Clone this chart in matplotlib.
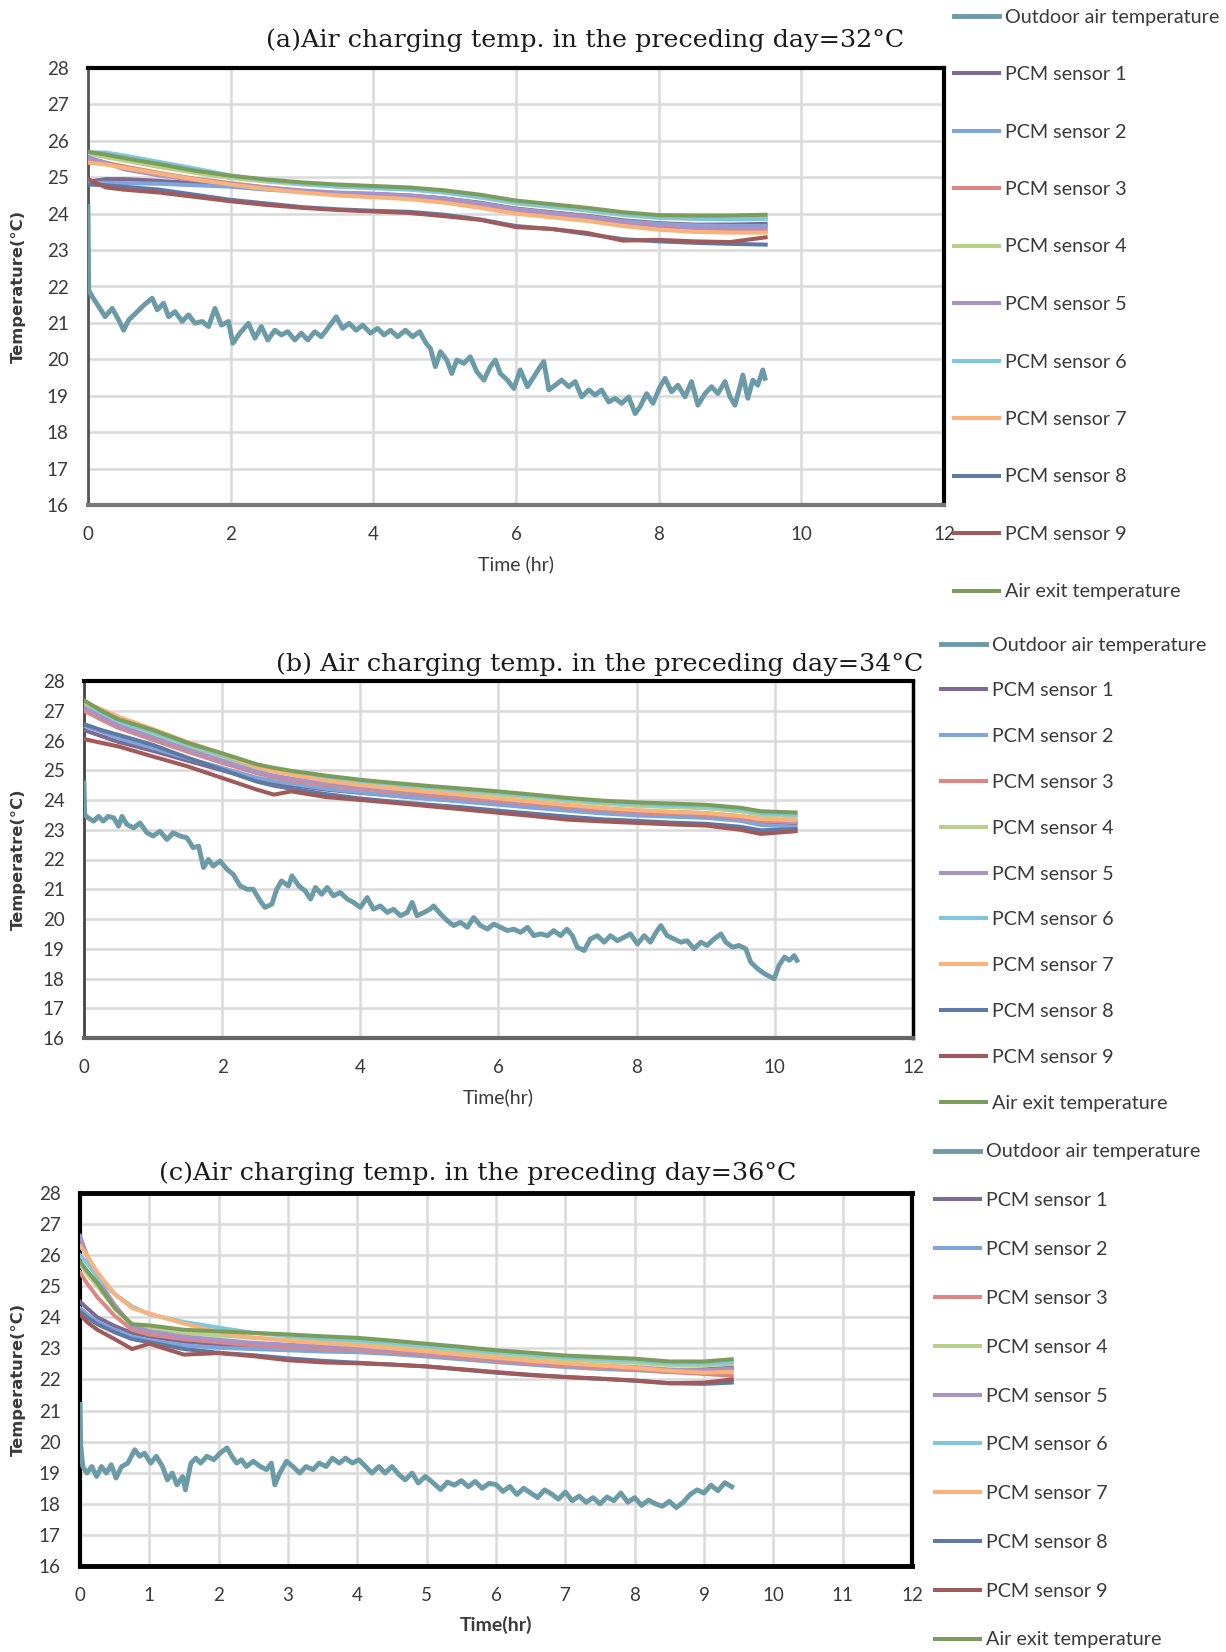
import matplotlib
matplotlib.use("Agg")
import matplotlib.pyplot as plt

# ---------------------------------------------------------------- data
SERIES_NAMES = ["Outdoor air temperature", "PCM sensor 1", "PCM sensor 2", "PCM sensor 3",
                "PCM sensor 4", "PCM sensor 5", "PCM sensor 6", "PCM sensor 7",
                "PCM sensor 8", "PCM sensor 9", "Air exit temperature"]
SERIES_COLORS = ["#6b9ba6", "#7d6a92", "#7ea6da", "#dc8784", "#b7d08a", "#a893c8",
                 "#7ec7dc", "#f9b27a", "#5f79a5", "#a05a5a", "#7b9d5b"]

TITLES = ["(a)Air charging temp. in the preceding day=32\u00b0C",
          "(b) Air charging temp. in the preceding day=34\u00b0C",
          "(c)Air charging temp. in the preceding day=36\u00b0C"]
YLABELS = ["Temperature(\u00b0C)", "Temperatre(\u00b0C)", "Temperature(\u00b0C)"]
XLABELS = ["Time (hr)", "Time(hr)", "Time(hr)"]
Y_TICKS = list(range(16, 29))
X_TICKS_AB = [0, 2, 4, 6, 8, 10, 12]
X_TICKS_C = list(range(0, 13))

# panel (a): 32 degC charging day
OUT_A_T = [0, 0.01, 0.06, 0.15, 0.24, 0.34, 0.43, 0.5, 0.57, 0.67, 0.79, 0.9, 0.97, 1.06, 1.13,
           1.22, 1.32, 1.41, 1.5, 1.6, 1.69, 1.78, 1.87, 1.97, 2.03, 2.13, 2.25, 2.34, 2.43,
           2.52, 2.62, 2.71, 2.8, 2.9, 2.99, 3.08, 3.18, 3.27, 3.36, 3.48, 3.57, 3.66, 3.76,
           3.85, 3.96, 4.06, 4.15, 4.24, 4.34, 4.45, 4.55, 4.65, 4.74, 4.8, 4.87, 4.94, 5.03,
           5.1, 5.17, 5.27, 5.36, 5.45, 5.55, 5.64, 5.71, 5.78, 5.88, 5.97, 6.06, 6.16, 6.25,
           6.34, 6.39, 6.46, 6.55, 6.64, 6.74, 6.83, 6.92, 7.02, 7.11, 7.2, 7.3, 7.39, 7.48,
           7.58, 7.67, 7.74, 7.83, 7.92, 8.02, 8.09, 8.18, 8.27, 8.37, 8.46, 8.55, 8.65, 8.74,
           8.83, 8.93, 9.0, 9.07, 9.14, 9.18, 9.25, 9.32, 9.39, 9.46, 9.49]
OUT_A_V = [24.2, 21.9, 21.72, 21.45, 21.17, 21.4, 21.08, 20.8, 21.08, 21.27, 21.5, 21.68, 21.36,
           21.54, 21.17, 21.31, 21.04, 21.22, 20.99, 21.04, 20.9, 21.4, 20.94, 21.04, 20.44,
           20.72, 20.99, 20.58, 20.9, 20.53, 20.8, 20.67, 20.76, 20.53, 20.72, 20.53, 20.76,
           20.62, 20.85, 21.17, 20.85, 20.99, 20.8, 20.94, 20.72, 20.85, 20.67, 20.8, 20.62,
           20.8, 20.62, 20.76, 20.44, 20.3, 19.8, 20.21, 19.98, 19.61, 19.98, 19.89, 20.07,
           19.66, 19.43, 19.8, 19.98, 19.61, 19.43, 19.2, 19.71, 19.25, 19.52, 19.8, 19.94,
           19.16, 19.29, 19.43, 19.25, 19.39, 18.97, 19.16, 19.02, 19.16, 18.83, 18.93, 18.79,
           18.97, 18.51, 18.7, 19.06, 18.79, 19.25, 19.48, 19.11, 19.29, 18.97, 19.39, 18.74,
           19.06, 19.25, 19.06, 19.39, 18.97, 18.74, 19.25, 19.57, 18.93, 19.43, 19.29, 19.71,
           19.48]
PCM_A_T = [0, 0.25, 0.5, 1, 1.5, 2, 2.5, 3, 3.5, 4, 4.5, 5, 5.5, 6, 6.5, 7, 7.5, 8, 8.5, 9, 9.5]
S1_A = [24.88, 24.95, 24.95, 24.90, 24.84, 24.78, 24.70, 24.62, 24.56, 24.54, 24.50, 24.42,
        24.30, 24.14, 24.04, 23.94, 23.82, 23.74, 23.70, 23.70, 23.72]
S2_A = [24.85, 24.85, 24.84, 24.82, 24.78, 24.74, 24.66, 24.60, 24.55, 24.52, 24.48, 24.40,
        24.28, 24.12, 24.02, 23.92, 23.80, 23.72, 23.68, 23.66, 23.66]
S3_A = [25.50, 25.40, 25.30, 25.12, 24.96, 24.84, 24.72, 24.62, 24.56, 24.52, 24.48, 24.38,
        24.24, 24.08, 23.98, 23.88, 23.76, 23.66, 23.60, 23.56, 23.52]
S4_A = [25.65, 25.55, 25.46, 25.28, 25.12, 24.98, 24.88, 24.80, 24.75, 24.72, 24.68, 24.58,
        24.44, 24.28, 24.18, 24.08, 23.96, 23.88, 23.86, 23.86, 23.88]
S5_A = [25.55, 25.40, 25.22, 25.05, 24.92, 24.82, 24.72, 24.64, 24.58, 24.55, 24.50, 24.42,
        24.28, 24.12, 24.02, 23.92, 23.78, 23.68, 23.62, 23.60, 23.60]
S6_A = [25.68, 25.68, 25.60, 25.42, 25.24, 25.05, 24.92, 24.82, 24.74, 24.70, 24.66, 24.58,
        24.46, 24.30, 24.20, 24.10, 23.98, 23.90, 23.86, 23.84, 23.85]
S7_A = [25.40, 25.35, 25.26, 25.10, 24.94, 24.80, 24.68, 24.58, 24.50, 24.45, 24.40, 24.30,
        24.16, 24.00, 23.90, 23.80, 23.66, 23.56, 23.50, 23.48, 23.48]
S8_A = [24.80, 24.78, 24.74, 24.66, 24.52, 24.38, 24.28, 24.18, 24.12, 24.08, 24.05, 23.97,
        23.84, 23.66, 23.58, 23.44, 23.30, 23.24, 23.20, 23.17, 23.15]
S9_A = [24.95, 24.72, 24.66, 24.58, 24.46, 24.34, 24.24, 24.16, 24.10, 24.06, 24.02, 23.93,
        23.83, 23.63, 23.58, 23.47, 23.26, 23.28, 23.24, 23.22, 23.35]
EXIT_A = [25.70, 25.62, 25.53, 25.36, 25.18, 25.04, 24.94, 24.86, 24.80, 24.76, 24.72, 24.64,
          24.52, 24.36, 24.26, 24.16, 24.04, 23.96, 23.95, 23.95, 23.97]

# panel (b): 34 degC charging day
OUT_B_T = [0, 0.01, 0.06, 0.14, 0.21, 0.28, 0.35, 0.43, 0.5, 0.55, 0.62, 0.72, 0.81, 0.91,
           1.0, 1.1, 1.2, 1.29, 1.39, 1.49, 1.58, 1.66, 1.73, 1.8, 1.87, 1.97, 2.07, 2.16, 2.26,
           2.36, 2.45, 2.55, 2.62, 2.72, 2.79, 2.86, 2.96, 3.01, 3.11, 3.2, 3.28, 3.35, 3.44,
           3.52, 3.61, 3.71, 3.81, 3.9, 4.0, 4.1, 4.19, 4.29, 4.39, 4.48, 4.58, 4.68, 4.75,
           4.82, 4.92, 5.01, 5.06, 5.16, 5.26, 5.35, 5.45, 5.55, 5.64, 5.74, 5.84, 5.93, 6.03,
           6.13, 6.22, 6.32, 6.42, 6.51, 6.61, 6.71, 6.8, 6.9, 6.99, 7.07, 7.14, 7.24, 7.33,
           7.43, 7.53, 7.62, 7.72, 7.82, 7.91, 8.01, 8.11, 8.2, 8.28, 8.35, 8.44, 8.54, 8.64,
           8.73, 8.83, 8.93, 9.02, 9.12, 9.22, 9.29, 9.39, 9.48, 9.58, 9.65, 9.75, 9.85, 9.94,
           9.99, 10.06, 10.14, 10.21, 10.28, 10.32]
OUT_B_V = [24.57, 23.5, 23.4, 23.29, 23.45, 23.29, 23.45, 23.4, 23.12, 23.45, 23.18, 23.06,
           23.23, 22.9, 22.79, 22.95, 22.67, 22.9, 22.79, 22.73, 22.4, 22.45, 21.73, 22.0,
           21.78, 21.95, 21.67, 21.5, 21.11, 21.0, 21.0, 20.61, 20.39, 20.5, 21.0, 21.28,
           21.11, 21.45, 21.11, 20.95, 20.67, 21.06, 20.83, 21.06, 20.78, 20.89, 20.67, 20.56,
           20.39, 20.72, 20.33, 20.44, 20.22, 20.33, 20.11, 20.22, 20.56, 20.11, 20.22, 20.33,
           20.44, 20.17, 19.94, 19.78, 19.89, 19.72, 20.05, 19.78, 19.66, 19.83, 19.72, 19.61,
           19.66, 19.55, 19.72, 19.44, 19.5, 19.44, 19.61, 19.44, 19.66, 19.44, 19.05, 18.94,
           19.33, 19.44, 19.22, 19.44, 19.27, 19.39, 19.5, 19.16, 19.44, 19.22, 19.55, 19.78,
           19.44, 19.33, 19.22, 19.27, 19.0, 19.22, 19.11, 19.33, 19.5, 19.22, 19.05, 19.11,
           19.0, 18.55, 18.33, 18.16, 18.05, 17.99, 18.44, 18.72, 18.61, 18.77, 18.61]
PCM_B_T = [0, 0.25, 0.5, 1, 1.5, 2, 2.5, 2.75, 3, 3.5, 4, 4.5, 5, 5.5, 6, 6.5, 7, 7.5, 8, 8.5,
           9, 9.5, 9.8, 10.3]
S1_B = [26.35, 26.15, 25.95, 25.65, 25.32, 25.00, 24.68, 24.58, 24.50, 24.35, 24.24, 24.14,
        24.05, 23.96, 23.87, 23.77, 23.68, 23.60, 23.54, 23.50, 23.46, 23.36, 23.25, 23.22]
S2_B = [26.50, 26.30, 26.08, 25.75, 25.40, 25.08, 24.75, 24.64, 24.55, 24.38, 24.26, 24.14,
        24.04, 23.94, 23.84, 23.74, 23.64, 23.55, 23.48, 23.44, 23.40, 23.30, 23.16, 23.10]
S3_B = [27.00, 26.70, 26.42, 26.02, 25.62, 25.25, 24.90, 24.76, 24.66, 24.50, 24.38, 24.27,
        24.16, 24.06, 23.96, 23.86, 23.76, 23.66, 23.58, 23.54, 23.50, 23.40, 23.30, 23.25]
S4_B = [27.25, 26.90, 26.60, 26.20, 25.82, 25.45, 25.08, 24.97, 24.88, 24.72, 24.60, 24.48,
        24.38, 24.28, 24.18, 24.07, 23.96, 23.87, 23.80, 23.76, 23.72, 23.62, 23.50, 23.45]
S5_B = [27.10, 26.80, 26.50, 26.10, 25.70, 25.32, 24.95, 24.82, 24.72, 24.56, 24.44, 24.33,
        24.23, 24.13, 24.02, 23.92, 23.81, 23.72, 23.64, 23.60, 23.56, 23.46, 23.36, 23.30]
S6_B = [27.30, 26.95, 26.65, 26.28, 25.88, 25.50, 25.12, 25.01, 24.92, 24.77, 24.64, 24.53,
        24.43, 24.33, 24.24, 24.13, 24.02, 23.93, 23.86, 23.82, 23.78, 23.68, 23.56, 23.50]
S7_B = [27.30, 27.05, 26.80, 26.38, 25.95, 25.55, 25.12, 24.96, 24.85, 24.65, 24.50, 24.38,
        24.27, 24.17, 24.05, 23.94, 23.83, 23.73, 23.66, 23.60, 23.56, 23.46, 23.36, 23.32]
S8_B = [26.55, 26.35, 26.19, 25.85, 25.42, 25.02, 24.62, 24.48, 24.38, 24.20, 24.05, 23.94,
        23.84, 23.75, 23.64, 23.54, 23.44, 23.35, 23.30, 23.24, 23.20, 23.10, 22.98, 23.02]
S9_B = [26.05, 25.92, 25.80, 25.46, 25.13, 24.74, 24.35, 24.18, 24.29, 24.10, 24.00, 23.90,
        23.79, 23.68, 23.57, 23.46, 23.34, 23.28, 23.23, 23.18, 23.14, 23.00, 22.86, 22.95]
EXIT_B = [27.35, 27.00, 26.71, 26.35, 25.92, 25.57, 25.20, 25.08, 24.98, 24.82, 24.68, 24.57,
          24.47, 24.38, 24.29, 24.18, 24.07, 23.98, 23.92, 23.88, 23.84, 23.74, 23.62, 23.58]

# panel (c): 36 degC charging day
OUT_C_T = [0, 0.01, 0.04, 0.1, 0.17, 0.24, 0.31, 0.38, 0.45, 0.52, 0.6, 0.69, 0.79, 0.86, 0.93,
           1.02, 1.1, 1.19, 1.26, 1.33, 1.4, 1.48, 1.52, 1.6, 1.67, 1.74, 1.83, 1.93, 2.02,
           2.12, 2.19, 2.26, 2.33, 2.4, 2.5, 2.6, 2.69, 2.76, 2.81, 2.88, 2.98, 3.07, 3.17,
           3.26, 3.36, 3.45, 3.55, 3.64, 3.74, 3.83, 3.93, 4.02, 4.12, 4.21, 4.31, 4.4, 4.5,
           4.6, 4.69, 4.79, 4.88, 4.98, 5.07, 5.2, 5.3, 5.4, 5.5, 5.6, 5.7, 5.8, 5.9, 6.0,
           6.1, 6.2, 6.3, 6.4, 6.5, 6.6, 6.7, 6.8, 6.9, 7.0, 7.1, 7.2, 7.3, 7.4, 7.5, 7.6,
           7.7, 7.8, 7.9, 8.0, 8.1, 8.2, 8.3, 8.4, 8.5, 8.6, 8.7, 8.8, 8.9, 9.0, 9.1, 9.2,
           9.3, 9.4]
OUT_C_V = [21.2, 19.9, 19.2, 18.99, 19.2, 18.88, 19.2, 18.99, 19.26, 18.83, 19.2, 19.31, 19.74,
           19.53, 19.63, 19.31, 19.53, 19.2, 18.77, 18.99, 18.61, 18.88, 18.45, 19.31, 19.47,
           19.31, 19.53, 19.42, 19.63, 19.8, 19.53, 19.31, 19.42, 19.2, 19.37, 19.2, 19.1,
           19.31, 18.61, 18.99, 19.37, 19.2, 18.99, 19.2, 19.1, 19.31, 19.2, 19.47, 19.31,
           19.47, 19.31, 19.42, 19.2, 18.99, 19.2, 18.99, 19.2, 18.94, 18.77, 18.99, 18.67,
           18.88, 18.72, 18.46, 18.7, 18.6, 18.75, 18.55, 18.72, 18.5, 18.66, 18.62, 18.4,
           18.56, 18.3, 18.5, 18.35, 18.2, 18.45, 18.32, 18.15, 18.38, 18.1, 18.25, 18.05,
           18.2, 18.0, 18.22, 18.1, 18.35, 18.05, 18.2, 17.95, 18.12, 18.0, 17.92, 18.08,
           17.88, 18.05, 18.3, 18.45, 18.35, 18.6, 18.42, 18.68, 18.55]
PCM_C_T = [0, 0.1, 0.25, 0.5, 0.75, 1, 1.5, 2, 2.5, 3, 3.5, 4, 4.5, 5, 5.5, 6, 6.5, 7, 7.5,
           8, 8.5, 9, 9.4]
S1_C = [24.50, 24.30, 24.00, 23.72, 23.50, 23.38, 23.22, 23.12, 23.06, 23.00, 22.96, 22.93,
        22.86, 22.78, 22.70, 22.62, 22.54, 22.46, 22.41, 22.37, 22.30, 22.32, 22.38]
S2_C = [24.30, 24.10, 23.85, 23.60, 23.38, 23.26, 23.10, 23.02, 22.98, 22.94, 22.90, 22.88,
        22.82, 22.74, 22.65, 22.56, 22.48, 22.40, 22.34, 22.30, 22.24, 22.26, 22.32]
S3_C = [25.45, 25.10, 24.65, 24.05, 23.60, 23.45, 23.30, 23.20, 23.10, 23.04, 22.99, 22.95,
        22.88, 22.80, 22.70, 22.60, 22.52, 22.44, 22.38, 22.33, 22.24, 22.18, 22.12]
S4_C = [25.70, 25.40, 25.00, 24.30, 23.75, 23.66, 23.50, 23.42, 23.34, 23.27, 23.22, 23.17,
        23.09, 23.00, 22.90, 22.80, 22.72, 22.64, 22.58, 22.54, 22.46, 22.46, 22.50]
S5_C = [26.62, 26.00, 25.25, 24.40, 23.72, 23.55, 23.38, 23.28, 23.18, 23.12, 23.06, 23.02,
        22.95, 22.86, 22.76, 22.66, 22.58, 22.50, 22.44, 22.40, 22.32, 22.30, 22.35]
S6_C = [26.00, 25.75, 25.30, 24.75, 24.35, 24.10, 23.85, 23.67, 23.50, 23.40, 23.32, 23.26,
        23.18, 23.08, 22.98, 22.88, 22.80, 22.72, 22.66, 22.61, 22.53, 22.52, 22.56]
S7_C = [26.30, 26.00, 25.45, 24.75, 24.30, 24.12, 23.80, 23.52, 23.35, 23.25, 23.17, 23.10,
        23.00, 22.90, 22.80, 22.70, 22.60, 22.52, 22.45, 22.38, 22.28, 22.22, 22.25]
S8_C = [24.20, 24.00, 23.78, 23.52, 23.30, 23.20, 22.98, 22.86, 22.78, 22.68, 22.60, 22.54,
        22.48, 22.42, 22.32, 22.22, 22.14, 22.08, 22.02, 21.96, 21.88, 21.86, 21.90]
S9_C = [24.10, 23.85, 23.60, 23.30, 22.98, 23.15, 22.80, 22.85, 22.75, 22.62, 22.55, 22.52,
        22.48, 22.42, 22.33, 22.24, 22.15, 22.08, 22.03, 21.97, 21.88, 21.90, 22.00]
EXIT_C = [25.80, 25.50, 25.10, 24.30, 23.78, 23.74, 23.60, 23.55, 23.50, 23.45, 23.39, 23.34,
          23.25, 23.15, 23.05, 22.94, 22.86, 22.77, 22.72, 22.67, 22.58, 22.58, 22.65]

# ---------------------------------------------------------------- figure
W, H = 1226, 1652
fig = plt.figure(figsize=(W / 100, H / 100), dpi=100)
fig.patch.set_facecolor("white")

SANS = ["Lato", "DejaVu Sans"]
SERIF = ["DejaVu Serif"]
TXT = "#3a3a3a"


def fx(px):
    return px / W


def fy(py):
    return 1 - py / H


def panel(box, title, title_xy, ylabel, xlabel, xlabel_bold, xticks,
          out_t, out_v, pcm_t, pcm_series, legend_xy, legend_gap, spines):
    l, t, r, b = box
    ax = fig.add_axes([fx(l), fy(b), fx(r - l), (b - t) / H])
    lines = [ax.plot(out_t, out_v, color=SERIES_COLORS[0], lw=3.5,
                     solid_joinstyle="round", zorder=3)[0]]
    for vals, col in zip(pcm_series, SERIES_COLORS[1:]):
        lines.append(ax.plot(pcm_t, vals, color=col, lw=2.9, zorder=3)[0])

    ax.set_xlim(0, 12)
    ax.set_ylim(16, 28)
    ax.set_xticks(xticks)
    ax.set_yticks(Y_TICKS)
    ax.grid(True, color="#d9d9d9", lw=1.8)
    ax.set_axisbelow(True)
    ax.tick_params(length=0, labelsize=13.5, labelcolor=TXT)
    ax.tick_params(axis="x", pad=15)
    ax.tick_params(axis="y", pad=14)
    for lab in ax.get_xticklabels() + ax.get_yticklabels():
        lab.set_fontfamily(SANS)

    for side, (col, lw) in spines.items():
        ax.spines[side].set_color(col)
        ax.spines[side].set_linewidth(lw)

    ax.set_ylabel(ylabel, fontsize=11.8, fontweight="bold", color=TXT, family=["DejaVu Sans"])
    ax.yaxis.set_label_coords((26 - l) / (r - l), 0.5)
    ax.set_xlabel(xlabel, fontsize=14, color=TXT, family=SANS,
                  fontweight="bold" if xlabel_bold else "normal")
    ax.xaxis.set_label_coords(0.5, -(50 / (b - t)))

    fig.text(fx(title_xy[0]), fy(title_xy[1]), title, ha="center", va="center",
             fontsize=18.3, family=SERIF, color="#1a1a1a")

    fs = 14.2
    fs_px = fs * 100 / 72
    row_h = 17.0
    ax.legend(lines, SERIES_NAMES, loc="upper left",
              bbox_to_anchor=(fx(legend_xy[0]), fy(legend_xy[1] - row_h / 2)),
              bbox_transform=fig.transFigure, frameon=False,
              prop={"family": SANS, "size": fs}, labelcolor=TXT,
              handlelength=45 / fs_px, handletextpad=0.28,
              labelspacing=(legend_gap - row_h) / fs_px,
              borderpad=0, borderaxespad=0)
    return ax


panel((88, 68, 944, 505), TITLES[0], (585, 40), YLABELS[0], XLABELS[0], False, X_TICKS_AB,
      OUT_A_T, OUT_A_V, PCM_A_T,
      [S1_A, S2_A, S3_A, S4_A, S5_A, S6_A, S7_A, S8_A, S9_A, EXIT_A],
      (954, 17), 57.5,
      {"top": ("black", 3), "right": ("black", 3), "left": ("#555555", 2), "bottom": ("#777777", 3)})

panel((84, 681, 913, 1038), TITLES[1], (600, 664), YLABELS[1], XLABELS[1], False, X_TICKS_AB,
      OUT_B_T, OUT_B_V, PCM_B_T,
      [S1_B, S2_B, S3_B, S4_B, S5_B, S6_B, S7_B, S8_B, S9_B, EXIT_B],
      (941, 645), 45.8,
      {"top": ("black", 3), "right": ("black", 2.5), "left": ("#444444", 2), "bottom": ("#666666", 3)})

panel((80, 1193, 912, 1566), TITLES[2], (478, 1173), YLABELS[2], XLABELS[2], True, X_TICKS_C,
      OUT_C_T, OUT_C_V, PCM_C_T,
      [S1_C, S2_C, S3_C, S4_C, S5_C, S6_C, S7_C, S8_C, S9_C, EXIT_C],
      (935, 1152), 48.8,
      {"top": ("black", 3.5), "right": ("black", 3), "left": ("black", 3), "bottom": ("black", 3.5)})

fig.savefig("out.png", dpi=100, facecolor="white")
